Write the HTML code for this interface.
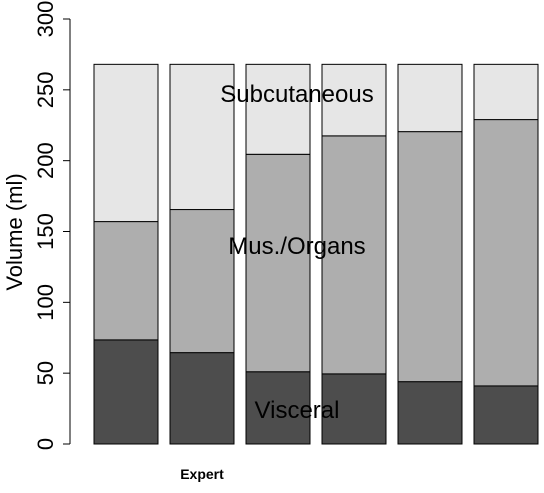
<!DOCTYPE html>
<html><head><meta charset="utf-8"><style>body{margin:0;background:#fff}text{font-family:"Liberation Sans",Arial,sans-serif}</style></head>
<body>
<svg id="chart" width="544" height="488" xmlns="http://www.w3.org/2000/svg"></svg>
<script>
const categories = ["1","2","3","4","5","6"];
const visceral = [73.5, 64.5, 51, 49.5, 44, 41];
const muscleTop = [157, 165.5, 204.5, 217.5, 220.5, 229];
const totalTop = [268, 268, 268, 268, 268, 268];
const yTicks = [0, 50, 100, 150, 200, 250, 300];
const svg = document.getElementById('chart');
const NS = 'http://www.w3.org/2000/svg';
function y(v){ return 444 - v * (425/300); }
function bx(i){ return 94 + i * 76; }
const bw = 64;
function mk(tag, attrs){ const e = document.createElementNS(NS, tag); for (const k in attrs) e.setAttribute(k, attrs[k]); svg.appendChild(e); return e; }
categories.forEach((c, i) => {
  const segs = [[0, visceral[i], '#4d4d4d', 'visceral'], [visceral[i], muscleTop[i], '#aeaeae', 'muscle'], [muscleTop[i], totalTop[i], '#e6e6e6', 'subcutaneous']];
  segs.forEach(s => {
    const r = mk('rect', {x: bx(i), y: y(s[1]), width: bw, height: y(s[0]) - y(s[1]), fill: s[2], stroke: '#000', 'stroke-width': 1});
    
    
  });
});
const ax = mk('line', {x1: 70, x2: 70, y1: y(0), y2: y(300), stroke: '#000'});


yTicks.forEach(t => {
  const tk = mk('line', {x1: 63, x2: 70, y1: y(t), y2: y(t), stroke: '#000'});
  
  
  const tl = mk('text', {x: 0, y: 0, 'font-size': 22, 'text-anchor': 'middle', transform: 'translate(53,' + y(t) + ') rotate(-90)'});
  tl.textContent = t;
  
  
});
</script>
<svg width="544" height="488" style="position:absolute;left:0;top:0">
<text x="22" y="232" font-size="22" text-anchor="middle" transform="rotate(-90 22 232)">Volume (ml)</text>
<text x="297" y="102" font-size="24" text-anchor="middle">Subcutaneous</text>
<text x="297" y="254" font-size="24" text-anchor="middle">Mus./Organs</text>
<text x="297" y="418" font-size="24" text-anchor="middle">Visceral</text>
<text x="202" y="479" font-size="14" font-weight="bold" text-anchor="middle">Expert</text>
</svg>
</body></html>
